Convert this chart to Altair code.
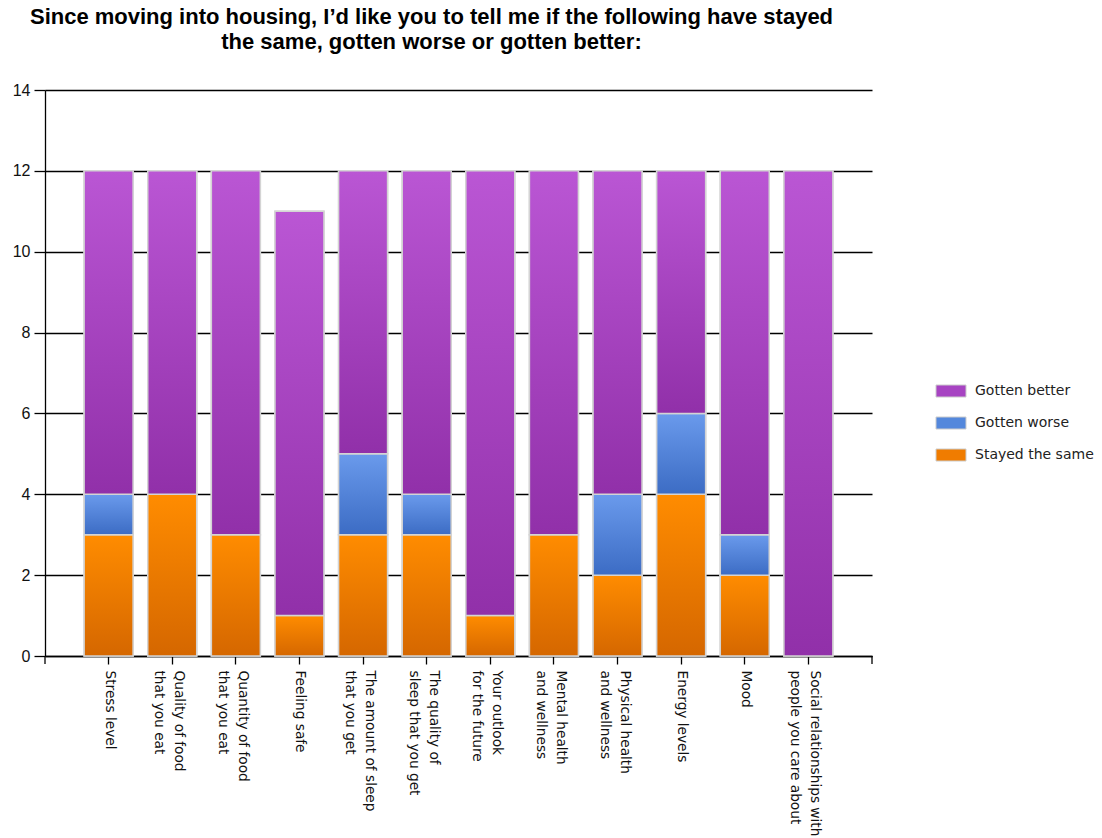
import altair as alt
import pandas as pd

categories = [
    "Stress level",
    "Quality of food|that you eat",
    "Quantity of food|that you eat",
    "Feeling safe",
    "The amount of sleep|that you get",
    "The quality of|sleep that you get",
    "Your outlook|for the future",
    "Mental health|and wellness",
    "Physical health|and wellness",
    "Energy levels",
    "Mood",
    "Social relationships with|people you care about",
]
stayed_same = [3, 4, 3, 1, 3, 3, 1, 3, 2, 4, 2, 0]
gotten_worse = [1, 0, 0, 0, 2, 1, 0, 0, 2, 2, 1, 0]
gotten_better = [8, 8, 9, 10, 7, 8, 11, 9, 8, 6, 9, 12]

series_names = ["Stayed the same", "Gotten worse", "Gotten better"]
legend_order = ["Gotten better", "Gotten worse", "Stayed the same"]
legend_colors = ["#a744c2", "#5488dc", "#f07c00"]

rows = []
for i, c in enumerate(categories):
    for k, (s, vals) in enumerate(zip(series_names, [stayed_same, gotten_worse, gotten_better])):
        rows.append({"cat": c, "series": s, "value": vals[i], "order": k})
df = pd.DataFrame(rows)

W, H = 827, 566

xenc = alt.X(
    "cat:N",
    sort=categories,
    scale=alt.Scale(paddingInner=0.23, paddingOuter=0.615),
    axis=alt.Axis(
        title=None,
        labelAngle=90,
        labelExpr="split(datum.label, '|')",
        tickSize=8,
        tickColor="#000",
        domainColor="#000",
        labelPadding=6,
        labelFontSize=13.7,
        labelFont="DejaVu Sans",
        labelColor="#111",
        labelLimit=300,
        labelLineHeight=20,
        labelOffset={
            "condition": {"test": "indexof(datum.label, '|') >= 0", "value": 7},
            "value": 1,
        },
    ),
)
yenc = alt.Y(
    "y0:Q",
    scale=alt.Scale(domain=[0, 14], nice=False),
    axis=alt.Axis(
        title=None,
        values=[0, 2, 4, 6, 8, 10, 12, 14],
        grid=True,
        gridColor="#000",
        gridWidth=1.3,
        tickColor="#000",
        tickSize=11,
        domainColor="#000",
        labelFontSize=16,
        labelFont="Liberation Sans",
        labelColor="#111",
        labelPadding=4,
    ),
)

base = (
    alt.Chart(df)
    .transform_filter("datum.value > 0")
    .transform_stack(
        stack="value",
        groupby=["cat"],
        as_=["y0", "y1"],
        sort=[alt.SortField("order", order="ascending")],
    )
)

legend_layer = base.mark_bar(stroke="#d4d4d4", strokeWidth=1.5).encode(
    x=xenc,
    y=yenc,
    y2="y1:Q",
    color=alt.Color(
        "series:N",
        scale=alt.Scale(domain=legend_order, range=legend_colors),
        legend=alt.Legend(
            title=None,
            orient="none",
            legendX=898,
            legendY=293,
            symbolType="M-2,-0.8H2V0.8H-2Z",
            symbolSize=225,
            symbolStrokeColor="#cccccc",
            symbolStrokeWidth=1,
            labelFontSize=14,
            labelFont="DejaVu Sans",
            labelColor="#222",
            labelOffset=16,
            rowPadding=16,
        ),
    ),
)

grads = {
    "Stayed the same": ("#ff8c00", "#d56700"),
    "Gotten worse": ("#6a9aec", "#3c6cc4"),
    "Gotten better": ("#ba56d4", "#9130a9"),
}

layers = [legend_layer]
for s in series_names:
    top, bot = grads[s]
    g = alt.Gradient(
        gradient="linear",
        stops=[alt.GradientStop(color=top, offset=0), alt.GradientStop(color=bot, offset=1)],
        x1=0, x2=0, y1=0, y2=1,
    )
    layers.append(
        base.transform_filter(alt.datum.series == s)
        .mark_bar(fill=g, stroke="#d4d4d4", strokeWidth=1.5)
        .encode(x=alt.X("cat:N", sort=categories), y="y0:Q", y2="y1:Q")
    )

ends = pd.DataFrame({"p": [0]})
end_ticks = alt.Chart(ends).mark_rule(color="#000", strokeWidth=1.3).encode(
    x=alt.value(0), y=alt.value(H), y2=alt.value(H + 8)
)
end_tick_r = alt.Chart(ends).mark_rule(color="#000", strokeWidth=1.3).encode(
    x=alt.value(W), y=alt.value(H), y2=alt.value(H + 8)
)

chart = (
    alt.layer(*layers, end_ticks, end_tick_r)
    .properties(
        width=W,
        height=H,
        padding={"left": 45, "top": 90, "right": 1102 - 45 - W, "bottom": 838 - 90 - H},
        autosize="none",
        title=alt.Title(
            text=[
                "Since moving into housing, I’d like you to tell me if the following have stayed",
                "the same, gotten worse or gotten better:",
            ],
            font="Liberation Sans",
            fontSize=22,
            fontWeight="bold",
            color="#000",
            anchor="middle",
            dx=-27,
            offset=28,
            lineHeight=25,
        ),
    )
    .configure_view(stroke=None)
    .configure_axis(domainWidth=1.3, tickWidth=1.3)
)

chart.save("out.html", embed_options={"renderer": "svg", "actions": False})
